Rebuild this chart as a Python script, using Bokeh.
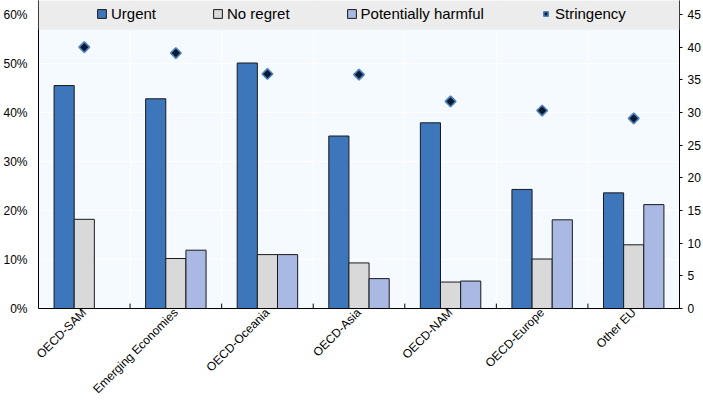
import math
from bokeh.plotting import figure
from bokeh.models import (ColumnDataSource, Range1d, LinearAxis, FixedTicker,
                          Legend, LegendItem, BoxAnnotation)
from bokeh.embed import file_html
from bokeh.resources import INLINE

regions = ["OECD-SAM", "Emerging Economies", "OECD-Oceania", "OECD-Asia",
           "OECD-NAM", "OECD-Europe", "Other EU"]
urgent = [45.5, 42.8, 50.1, 35.2, 37.9, 24.3, 23.6]
no_regret = [18.2, 10.2, 11.0, 9.3, 5.4, 10.1, 13.0]
harmful = [float("nan"), 11.9, 11.0, 6.1, 5.6, 18.1, 21.2]
stringency = [40.0, 39.1, 35.9, 35.8, 31.7, 30.3, 29.1]
left_ticks = [0, 10, 20, 30, 40, 50, 60]
right_ticks = [0, 5, 10, 15, 20, 25, 30, 35, 40, 45]

FONT = "Liberation Sans"
YMAX = 62.86
BW = 0.22

p = figure(width=703, height=404, output_backend="svg", toolbar_location=None,
           x_range=Range1d(0, len(regions)), y_range=Range1d(0, YMAX),
           min_border_left=37, min_border_right=20, min_border_top=0,
           min_border_bottom=96)
p.background_fill_color = "#f4faff"
p.border_fill_color = "white"
p.outline_line_color = None

p.extra_y_ranges = {"s": Range1d(0, YMAX * 45 / 60)}

centers = [i + 0.5 for i in range(len(regions))]
src = ColumnDataSource(dict(
    xu=[c - BW for c in centers], xn=centers, xh=[c + BW for c in centers],
    u=urgent, n=no_regret, h=harmful, xs=centers, s=stringency))

r_u = p.vbar(x="xu", top="u", width=BW, source=src, fill_color="#3d76bb",
             line_color="#1a1a1a", line_width=1)
r_n = p.vbar(x="xn", top="n", width=BW, source=src, fill_color="#d9d9d9",
             line_color="#1a1a1a", line_width=1)
r_h = p.vbar(x="xh", top="h", width=BW, source=src, fill_color="#a9b9e4",
             line_color="#1a1a1a", line_width=1)
r_s = p.scatter(x="xs", y="s", source=src, y_range_name="s", marker="square",
                angle=math.pi / 4, size=7.5, fill_color="#0a1a33",
                line_color="#4f81bd", line_width=1.6)

# boundary tick marks on bottom axis
bounds = list(range(1, len(regions)))
p.segment(x0=bounds, y0=[0] * len(bounds), x1=bounds, y1=[1.0] * len(bounds),
          line_color="black", line_width=1)

# grids
p.xgrid.ticker = FixedTicker(ticks=bounds)
p.xgrid.grid_line_color = "white"
p.xgrid.grid_line_width = 1
p.ygrid.ticker = FixedTicker(ticks=left_ticks)
p.ygrid.grid_line_color = "white"
p.ygrid.grid_line_width = 1

# x axis
xa = p.xaxis[0]
xa.ticker = FixedTicker(ticks=centers)
xa.major_label_overrides = {c: r for c, r in zip(centers, regions)}
xa.major_label_orientation = math.pi / 4
xa.major_tick_line_color = None
xa.major_tick_in = 0
xa.major_tick_out = 0
xa.minor_tick_line_color = None
xa.axis_line_color = "black"
xa.major_label_text_font = FONT
xa.major_label_text_font_size = "12px"
xa.major_label_text_color = "black"
xa.major_label_standoff = 2

# left axis
ya = p.yaxis[0]
ya.ticker = FixedTicker(ticks=left_ticks)
ya.major_label_overrides = {t: f"{t}%" for t in left_ticks}
ya.major_tick_line_color = None
ya.major_tick_in = 0
ya.major_tick_out = 0
ya.minor_tick_line_color = None
ya.axis_line_color = "black"
ya.major_label_text_font = FONT
ya.major_label_text_font_size = "12px"
ya.major_label_text_color = "black"
ya.major_label_standoff = 11

# right axis
ra = LinearAxis(y_range_name="s", ticker=FixedTicker(ticks=right_ticks))
ra.major_tick_in = 0
ra.major_tick_out = 3
ra.minor_tick_line_color = None
ra.axis_line_color = "black"
ra.major_label_text_font = FONT
ra.major_label_text_font_size = "12px"
ra.major_label_text_color = "black"
ra.major_label_standoff = 5
p.add_layout(ra, "right")

# legend band
band = BoxAnnotation(bottom=56.9, fill_color="#ececec", fill_alpha=1.0,
                     line_color=None, level="annotation")
p.add_layout(band)

legend = Legend(items=[
    LegendItem(label="Urgent", renderers=[r_u]),
    LegendItem(label="No regret", renderers=[r_n]),
    LegendItem(label="Potentially harmful", renderers=[r_h]),
    LegendItem(label="Stringency", renderers=[r_s]),
], orientation="horizontal", location=(58, 286),
    background_fill_alpha=0, border_line_color=None,
    label_text_font=FONT, label_text_font_size="15px", label_text_color="black",
    glyph_width=11, glyph_height=11, label_standoff=4, spacing=56,
    padding=0, margin=0, label_height=14)
p.add_layout(legend, "center")

open("out.html", "w").write(file_html(p, INLINE))
